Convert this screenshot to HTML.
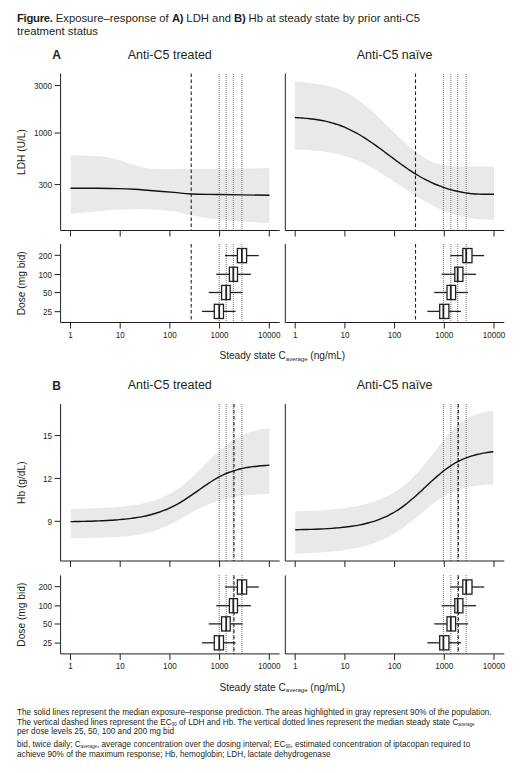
<!DOCTYPE html>
<html><head><meta charset="utf-8"><style>
html,body{margin:0;padding:0;background:#fff;}
body{width:520px;height:773px;overflow:hidden;position:relative;font-family:"Liberation Sans",sans-serif;color:#231f20;}
svg{position:absolute;left:0;top:0;}
svg text{font-family:"Liberation Sans",sans-serif;fill:#231f20;}
.lbl{font-size:12px;font-weight:bold;}
.ttl{font-size:12.5px;}
.tk{font-size:8.15px;}
.yt{font-size:10.2px;}
.xt{font-size:10.15px;}
.sub{font-size:6px;}
.ax{stroke:#231f20;stroke-width:1;fill:none;}
.crv{stroke:#111;stroke-width:1.4;fill:none;}
.dot{stroke:#666;stroke-width:0.9;stroke-dasharray:1 1;}
.dash{stroke:#231f20;stroke-width:1.1;stroke-dasharray:3.5 2.5;}
.wh{stroke:#231f20;stroke-width:1.3;}
.bx{stroke:#231f20;stroke-width:1.3;fill:#fff;}
.md{stroke:#231f20;stroke-width:1.8;}
.cap{position:absolute;left:17px;font-size:11.3px;line-height:13px;white-space:nowrap;}
.cap b{letter-spacing:-0.3px;}
.fn{position:absolute;left:17px;font-size:8.2px;line-height:9.7px;white-space:nowrap;}
.fn sub{font-size:4.5px;line-height:0;vertical-align:baseline;position:relative;top:1.2px;}
</style></head><body>
<div class="cap" style="top:12.2px"><b>Figure.</b> Exposure–response of <b>A)</b> LDH and <b>B)</b> Hb at steady state by prior anti-C5<br>treatment status</div>
<svg width="520" height="773" viewBox="0 0 520 773">
<text x="52.3" y="59.0" class="lbl">A</text>
<text x="169.8" y="58.8" class="ttl" text-anchor="middle">Anti-C5 treated</text>
<text x="394.6" y="58.8" class="ttl" text-anchor="middle">Anti-C5 naïve</text>
<path d="M70.60,155.20 C75.50,155.38 92.10,155.53 100.00,156.30 C107.90,157.07 112.17,158.32 118.00,159.80 C123.83,161.28 129.67,163.75 135.00,165.20 C140.33,166.65 144.17,167.83 150.00,168.50 C155.83,169.17 163.33,169.15 170.00,169.20 C176.67,169.25 173.42,168.95 190.00,168.80 C206.58,168.65 256.25,168.38 269.50,168.30 L269.50,223.20 C263.60,222.82 244.00,221.70 234.10,220.90 C224.20,220.10 217.30,219.35 210.10,218.40 C202.90,217.45 196.92,216.38 190.90,215.20 C184.88,214.02 180.82,212.27 174.00,211.30 C167.18,210.33 159.33,209.67 150.00,209.40 C140.67,209.13 126.33,209.43 118.00,209.70 C109.67,209.97 107.90,210.32 100.00,211.00 C92.10,211.68 75.50,213.33 70.60,213.80 Z" fill="#e9e9e9"/>
<path d="M294.80,80.96 C295.30,81.04 296.81,81.27 297.82,81.41 C298.82,81.55 299.83,81.68 300.84,81.81 C301.84,81.94 302.85,82.06 303.85,82.19 C304.86,82.31 305.87,82.43 306.87,82.55 C307.88,82.66 308.88,82.78 309.89,82.90 C310.90,83.03 311.90,83.15 312.91,83.28 C313.92,83.41 314.92,83.54 315.93,83.68 C316.93,83.82 317.94,83.97 318.95,84.13 C319.95,84.28 320.96,84.45 321.96,84.63 C322.97,84.81 323.98,85.00 324.98,85.21 C325.99,85.41 326.99,85.63 328.00,85.87 C329.01,86.11 330.01,86.36 331.02,86.63 C332.02,86.91 333.03,87.20 334.04,87.51 C335.04,87.83 336.05,88.16 337.05,88.52 C338.06,88.88 339.07,89.27 340.07,89.68 C341.08,90.09 342.08,90.53 343.09,90.99 C344.10,91.46 345.10,91.95 346.11,92.48 C347.12,93.01 348.12,93.56 349.13,94.15 C350.13,94.73 351.14,95.34 352.15,95.98 C353.15,96.62 354.16,97.28 355.16,97.97 C356.17,98.65 357.18,99.37 358.18,100.10 C359.19,100.83 360.19,101.59 361.20,102.36 C362.21,103.14 363.21,103.94 364.22,104.75 C365.22,105.56 366.23,106.40 367.24,107.25 C368.24,108.10 369.25,108.96 370.25,109.84 C371.26,110.72 372.27,111.62 373.27,112.52 C374.28,113.43 375.28,114.35 376.29,115.28 C377.30,116.21 378.30,117.15 379.31,118.09 C380.32,119.04 381.32,120.00 382.33,120.97 C383.33,121.93 384.34,122.90 385.35,123.88 C386.35,124.85 387.36,125.83 388.36,126.81 C389.37,127.80 390.38,128.78 391.38,129.77 C392.39,130.75 393.39,131.73 394.40,132.71 C395.41,133.69 396.41,134.67 397.42,135.63 C398.42,136.60 399.43,137.57 400.44,138.52 C401.44,139.47 402.45,140.41 403.45,141.34 C404.46,142.27 405.47,143.19 406.47,144.09 C407.48,144.99 408.48,145.88 409.49,146.75 C410.50,147.61 411.50,148.46 412.51,149.29 C413.52,150.12 414.52,150.93 415.53,151.71 C416.53,152.49 417.54,153.25 418.55,153.98 C419.55,154.71 420.56,155.41 421.56,156.09 C422.57,156.76 423.58,157.40 424.58,158.01 C425.59,158.62 426.59,159.20 427.60,159.74 C428.61,160.28 429.61,160.79 430.62,161.25 C431.62,161.72 432.63,162.15 433.64,162.54 C434.64,162.93 435.65,163.28 436.65,163.60 C437.66,163.93 438.67,164.21 439.67,164.47 C440.68,164.73 441.68,164.96 442.69,165.16 C443.70,165.36 444.70,165.53 445.71,165.69 C446.72,165.84 447.72,165.96 448.73,166.07 C449.73,166.17 450.74,166.26 451.75,166.32 C452.75,166.39 453.76,166.44 454.76,166.48 C455.77,166.51 456.78,166.53 457.78,166.54 C458.79,166.55 459.79,166.54 460.80,166.54 C461.81,166.54 462.81,166.54 463.82,166.54 C464.82,166.54 465.83,166.54 466.84,166.54 C467.84,166.54 468.85,166.54 469.85,166.54 C470.86,166.54 471.87,166.54 472.87,166.54 C473.88,166.54 474.88,166.54 475.89,166.54 C476.90,166.54 477.90,166.54 478.91,166.54 C479.92,166.54 480.92,166.54 481.93,166.54 C482.93,166.54 483.94,166.54 484.95,166.54 C485.95,166.54 486.96,166.51 487.96,166.54 C488.97,166.56 489.98,166.59 490.98,166.69 C491.99,166.79 493.50,167.06 494.00,167.13 L494.00,219.83 C493.50,219.83 491.99,219.82 490.98,219.80 C489.98,219.78 488.97,219.75 487.96,219.71 C486.96,219.68 485.95,219.63 484.95,219.57 C483.94,219.52 482.93,219.45 481.93,219.38 C480.92,219.30 479.92,219.21 478.91,219.12 C477.90,219.02 476.90,218.92 475.89,218.80 C474.88,218.68 473.88,218.55 472.87,218.41 C471.87,218.27 470.86,218.12 469.85,217.95 C468.85,217.79 467.84,217.61 466.84,217.42 C465.83,217.23 464.82,217.03 463.82,216.82 C462.81,216.60 461.81,216.37 460.80,216.13 C459.79,215.89 458.79,215.64 457.78,215.37 C456.78,215.10 455.77,214.81 454.76,214.51 C453.76,214.22 452.75,213.90 451.75,213.58 C450.74,213.25 449.73,212.90 448.73,212.55 C447.72,212.19 446.72,211.81 445.71,211.42 C444.70,211.03 443.70,210.62 442.69,210.20 C441.68,209.78 440.68,209.34 439.67,208.88 C438.67,208.43 437.66,207.96 436.65,207.47 C435.65,206.99 434.64,206.49 433.64,205.98 C432.63,205.47 431.62,204.94 430.62,204.41 C429.61,203.87 428.61,203.33 427.60,202.77 C426.59,202.21 425.59,201.64 424.58,201.06 C423.58,200.48 422.57,199.89 421.56,199.29 C420.56,198.70 419.55,198.09 418.55,197.48 C417.54,196.86 416.53,196.24 415.53,195.61 C414.52,194.98 413.52,194.35 412.51,193.71 C411.50,193.07 410.50,192.42 409.49,191.77 C408.48,191.12 407.48,190.46 406.47,189.81 C405.47,189.15 404.46,188.49 403.45,187.82 C402.45,187.16 401.44,186.49 400.44,185.82 C399.43,185.16 398.42,184.49 397.42,183.82 C396.41,183.15 395.41,182.48 394.40,181.81 C393.39,181.15 392.39,180.48 391.38,179.82 C390.38,179.15 389.37,178.49 388.36,177.84 C387.36,177.18 386.35,176.53 385.35,175.88 C384.34,175.24 383.33,174.59 382.33,173.96 C381.32,173.33 380.32,172.70 379.31,172.08 C378.30,171.46 377.30,170.85 376.29,170.25 C375.28,169.65 374.28,169.05 373.27,168.47 C372.27,167.89 371.26,167.32 370.25,166.76 C369.25,166.21 368.24,165.66 367.24,165.13 C366.23,164.60 365.22,164.08 364.22,163.58 C363.21,163.07 362.21,162.58 361.20,162.11 C360.19,161.64 359.19,161.19 358.18,160.75 C357.18,160.31 356.17,159.89 355.16,159.49 C354.16,159.08 353.15,158.70 352.15,158.33 C351.14,157.96 350.13,157.60 349.13,157.26 C348.12,156.92 347.12,156.60 346.11,156.29 C345.10,155.98 344.10,155.69 343.09,155.41 C342.08,155.12 341.08,154.86 340.07,154.60 C339.07,154.35 338.06,154.11 337.05,153.88 C336.05,153.65 335.04,153.43 334.04,153.23 C333.03,153.02 332.02,152.83 331.02,152.65 C330.01,152.47 329.01,152.30 328.00,152.14 C326.99,151.97 325.99,151.82 324.98,151.68 C323.98,151.54 322.97,151.41 321.96,151.29 C320.96,151.16 319.95,151.05 318.95,150.94 C317.94,150.84 316.93,150.74 315.93,150.65 C314.92,150.56 313.92,150.47 312.91,150.39 C311.90,150.32 310.90,150.25 309.89,150.18 C308.88,150.12 307.88,150.06 306.87,150.00 C305.87,149.95 304.86,149.90 303.85,149.86 C302.85,149.81 301.84,149.77 300.84,149.74 C299.83,149.70 298.82,149.67 297.82,149.64 C296.81,149.61 295.30,149.57 294.80,149.55 Z" fill="#e9e9e9"/>
<line x1="219.2" y1="74" x2="219.2" y2="230.5" class="dot"/>
<line x1="219.2" y1="244" x2="219.2" y2="322.5" class="dot"/>
<line x1="226.2" y1="74" x2="226.2" y2="230.5" class="dot"/>
<line x1="226.2" y1="244" x2="226.2" y2="322.5" class="dot"/>
<line x1="233.3" y1="74" x2="233.3" y2="230.5" class="dot"/>
<line x1="233.3" y1="244" x2="233.3" y2="322.5" class="dot"/>
<line x1="241.9" y1="74" x2="241.9" y2="230.5" class="dot"/>
<line x1="241.9" y1="244" x2="241.9" y2="322.5" class="dot"/>
<line x1="443.4" y1="74" x2="443.4" y2="230.5" class="dot"/>
<line x1="443.4" y1="244" x2="443.4" y2="322.5" class="dot"/>
<line x1="450.8" y1="74" x2="450.8" y2="230.5" class="dot"/>
<line x1="450.8" y1="244" x2="450.8" y2="322.5" class="dot"/>
<line x1="457.7" y1="74" x2="457.7" y2="230.5" class="dot"/>
<line x1="457.7" y1="244" x2="457.7" y2="322.5" class="dot"/>
<line x1="466.2" y1="74" x2="466.2" y2="230.5" class="dot"/>
<line x1="466.2" y1="244" x2="466.2" y2="322.5" class="dot"/>
<line x1="191.2" y1="73.5" x2="191.2" y2="230.5" class="dash"/>
<line x1="191.2" y1="244.0" x2="191.2" y2="322.5" class="dash"/>
<line x1="415.5" y1="73.5" x2="415.5" y2="230.5" class="dash"/>
<line x1="415.5" y1="244.0" x2="415.5" y2="322.5" class="dash"/>
<path d="M70.60,188.20 C74.67,188.22 87.10,188.23 95.00,188.30 C102.90,188.37 111.33,188.43 118.00,188.60 C124.67,188.77 129.67,188.98 135.00,189.30 C140.33,189.62 143.50,189.98 150.00,190.50 C156.50,191.02 167.18,191.82 174.00,192.40 C180.82,192.98 183.28,193.65 190.90,194.00 C198.52,194.35 206.60,194.28 219.70,194.50 C232.80,194.72 261.20,195.17 269.50,195.30" class="crv"/>
<path d="M294.80,117.50 C295.30,117.53 296.81,117.62 297.82,117.68 C298.82,117.74 299.83,117.81 300.84,117.88 C301.84,117.96 302.85,118.03 303.85,118.12 C304.86,118.20 305.87,118.29 306.87,118.39 C307.88,118.48 308.88,118.59 309.89,118.70 C310.90,118.81 311.90,118.93 312.91,119.06 C313.92,119.19 314.92,119.33 315.93,119.47 C316.93,119.62 317.94,119.78 318.95,119.95 C319.95,120.12 320.96,120.30 321.96,120.50 C322.97,120.69 323.98,120.90 324.98,121.12 C325.99,121.34 326.99,121.57 328.00,121.82 C329.01,122.06 330.01,122.33 331.02,122.60 C332.02,122.88 333.03,123.17 334.04,123.48 C335.04,123.79 336.05,124.11 337.05,124.46 C338.06,124.80 339.07,125.15 340.07,125.52 C341.08,125.89 342.08,126.28 343.09,126.69 C344.10,127.09 345.10,127.51 346.11,127.95 C347.12,128.39 348.12,128.84 349.13,129.31 C350.13,129.78 351.14,130.27 352.15,130.77 C353.15,131.28 354.16,131.80 355.16,132.34 C356.17,132.87 357.18,133.43 358.18,134.00 C359.19,134.58 360.19,135.17 361.20,135.77 C362.21,136.38 363.21,137.00 364.22,137.64 C365.22,138.28 366.23,138.93 367.24,139.59 C368.24,140.26 369.25,140.93 370.25,141.62 C371.26,142.31 372.27,143.01 373.27,143.71 C374.28,144.42 375.28,145.14 376.29,145.86 C377.30,146.58 378.30,147.31 379.31,148.05 C380.32,148.78 381.32,149.53 382.33,150.27 C383.33,151.02 384.34,151.77 385.35,152.52 C386.35,153.27 387.36,154.02 388.36,154.78 C389.37,155.53 390.38,156.29 391.38,157.04 C392.39,157.79 393.39,158.54 394.40,159.29 C395.41,160.04 396.41,160.79 397.42,161.53 C398.42,162.27 399.43,163.00 400.44,163.73 C401.44,164.46 402.45,165.18 403.45,165.90 C404.46,166.61 405.47,167.32 406.47,168.01 C407.48,168.71 408.48,169.39 409.49,170.07 C410.50,170.74 411.50,171.40 412.51,172.05 C413.52,172.70 414.52,173.33 415.53,173.95 C416.53,174.57 417.54,175.18 418.55,175.77 C419.55,176.35 420.56,176.93 421.56,177.49 C422.57,178.05 423.58,178.59 424.58,179.12 C425.59,179.65 426.59,180.16 427.60,180.66 C428.61,181.16 429.61,181.65 430.62,182.12 C431.62,182.59 432.63,183.05 433.64,183.49 C434.64,183.93 435.65,184.36 436.65,184.77 C437.66,185.18 438.67,185.58 439.67,185.97 C440.68,186.35 441.68,186.72 442.69,187.08 C443.70,187.44 444.70,187.78 445.71,188.11 C446.72,188.44 447.72,188.75 448.73,189.06 C449.73,189.36 450.74,189.65 451.75,189.92 C452.75,190.19 453.76,190.45 454.76,190.70 C455.77,190.95 456.78,191.18 457.78,191.40 C458.79,191.63 459.79,191.83 460.80,192.03 C461.81,192.22 462.81,192.40 463.82,192.57 C464.82,192.74 465.83,192.89 466.84,193.04 C467.84,193.18 468.85,193.31 469.85,193.43 C470.86,193.54 471.87,193.65 472.87,193.74 C473.88,193.83 474.88,193.91 475.89,193.98 C476.90,194.04 477.90,194.10 478.91,194.14 C479.92,194.18 480.92,194.21 481.93,194.23 C482.93,194.25 483.94,194.24 484.95,194.24 C485.95,194.25 486.96,194.24 487.96,194.24 C488.97,194.24 489.98,194.24 490.98,194.24 C491.99,194.24 493.50,194.24 494.00,194.24" class="crv"/>
<path d="M60.6,73.5 V230.5 H279.6" class="ax"/>
<path d="M60.6,244.0 V322.5 H279.6" class="ax"/>
<line x1="70.50" y1="230.5" x2="70.50" y2="236.5" class="ax"/>
<line x1="70.50" y1="322.5" x2="70.50" y2="328.5" class="ax"/>
<text x="70.50" y="337.5" class="tk" text-anchor="middle">1</text>
<line x1="120.20" y1="230.5" x2="120.20" y2="236.5" class="ax"/>
<line x1="120.20" y1="322.5" x2="120.20" y2="328.5" class="ax"/>
<text x="120.20" y="337.5" class="tk" text-anchor="middle">10</text>
<line x1="169.90" y1="230.5" x2="169.90" y2="236.5" class="ax"/>
<line x1="169.90" y1="322.5" x2="169.90" y2="328.5" class="ax"/>
<text x="169.90" y="337.5" class="tk" text-anchor="middle">100</text>
<line x1="219.60" y1="230.5" x2="219.60" y2="236.5" class="ax"/>
<line x1="219.60" y1="322.5" x2="219.60" y2="328.5" class="ax"/>
<text x="219.60" y="337.5" class="tk" text-anchor="middle">1000</text>
<line x1="269.30" y1="230.5" x2="269.30" y2="236.5" class="ax"/>
<line x1="269.30" y1="322.5" x2="269.30" y2="328.5" class="ax"/>
<text x="269.30" y="337.5" class="tk" text-anchor="middle">10000</text>
<path d="M285.3,73.5 V230.5 H504.3" class="ax"/>
<path d="M285.3,244.0 V322.5 H504.3" class="ax"/>
<line x1="295.20" y1="230.5" x2="295.20" y2="236.5" class="ax"/>
<line x1="295.20" y1="322.5" x2="295.20" y2="328.5" class="ax"/>
<text x="295.20" y="337.5" class="tk" text-anchor="middle">1</text>
<line x1="344.90" y1="230.5" x2="344.90" y2="236.5" class="ax"/>
<line x1="344.90" y1="322.5" x2="344.90" y2="328.5" class="ax"/>
<text x="344.90" y="337.5" class="tk" text-anchor="middle">10</text>
<line x1="394.60" y1="230.5" x2="394.60" y2="236.5" class="ax"/>
<line x1="394.60" y1="322.5" x2="394.60" y2="328.5" class="ax"/>
<text x="394.60" y="337.5" class="tk" text-anchor="middle">100</text>
<line x1="444.30" y1="230.5" x2="444.30" y2="236.5" class="ax"/>
<line x1="444.30" y1="322.5" x2="444.30" y2="328.5" class="ax"/>
<text x="444.30" y="337.5" class="tk" text-anchor="middle">1000</text>
<line x1="494.00" y1="230.5" x2="494.00" y2="236.5" class="ax"/>
<line x1="494.00" y1="322.5" x2="494.00" y2="328.5" class="ax"/>
<text x="494.00" y="337.5" class="tk" text-anchor="middle">10000</text>
<line x1="54.6" y1="85.6" x2="60.6" y2="85.6" class="ax"/>
<text x="52.1" y="88.8" class="tk" text-anchor="end">3000</text>
<line x1="54.6" y1="133.0" x2="60.6" y2="133.0" class="ax"/>
<text x="52.1" y="136.2" class="tk" text-anchor="end">1000</text>
<line x1="54.6" y1="184.6" x2="60.6" y2="184.6" class="ax"/>
<text x="52.1" y="187.8" class="tk" text-anchor="end">300</text>
<line x1="54.6" y1="255.3" x2="60.6" y2="255.3" class="ax"/>
<text x="52.1" y="258.5" class="tk" text-anchor="end">200</text>
<line x1="54.6" y1="274.5" x2="60.6" y2="274.5" class="ax"/>
<text x="52.1" y="277.7" class="tk" text-anchor="end">100</text>
<line x1="54.6" y1="292.6" x2="60.6" y2="292.6" class="ax"/>
<text x="52.1" y="295.8" class="tk" text-anchor="end">50</text>
<line x1="54.6" y1="311.7" x2="60.6" y2="311.7" class="ax"/>
<text x="52.1" y="314.9" class="tk" text-anchor="end">25</text>
<text transform="translate(24.6,152.0) rotate(-90)" class="yt" text-anchor="middle">LDH (U/L)</text>
<text transform="translate(24.6,283.3) rotate(-90)" class="yt" text-anchor="middle">Dose (mg bid)</text>
<line x1="225.00" y1="255.6" x2="237.40" y2="255.6" class="wh"/>
<line x1="246.60" y1="255.6" x2="258.80" y2="255.6" class="wh"/>
<rect x="237.40" y="248.50" width="9.20" height="14.2" class="bx"/>
<line x1="241.90" y1="248.50" x2="241.90" y2="262.70" class="md"/>
<line x1="216.20" y1="274.3" x2="229.40" y2="274.3" class="wh"/>
<line x1="237.50" y1="274.3" x2="250.80" y2="274.3" class="wh"/>
<rect x="229.40" y="267.20" width="8.10" height="14.2" class="bx"/>
<line x1="233.30" y1="267.20" x2="233.30" y2="281.40" class="md"/>
<line x1="208.80" y1="292.5" x2="221.60" y2="292.5" class="wh"/>
<line x1="230.20" y1="292.5" x2="242.70" y2="292.5" class="wh"/>
<rect x="221.60" y="285.40" width="8.60" height="14.2" class="bx"/>
<line x1="226.20" y1="285.40" x2="226.20" y2="299.60" class="md"/>
<line x1="202.00" y1="311.4" x2="214.30" y2="311.4" class="wh"/>
<line x1="223.50" y1="311.4" x2="235.50" y2="311.4" class="wh"/>
<rect x="214.30" y="304.30" width="9.20" height="14.2" class="bx"/>
<line x1="219.20" y1="304.30" x2="219.20" y2="318.50" class="md"/>
<line x1="450.40" y1="255.6" x2="462.80" y2="255.6" class="wh"/>
<line x1="472.00" y1="255.6" x2="484.20" y2="255.6" class="wh"/>
<rect x="462.80" y="248.50" width="9.20" height="14.2" class="bx"/>
<line x1="466.20" y1="248.50" x2="466.20" y2="262.70" class="md"/>
<line x1="441.60" y1="274.3" x2="454.80" y2="274.3" class="wh"/>
<line x1="462.90" y1="274.3" x2="476.20" y2="274.3" class="wh"/>
<rect x="454.80" y="267.20" width="8.10" height="14.2" class="bx"/>
<line x1="457.70" y1="267.20" x2="457.70" y2="281.40" class="md"/>
<line x1="434.20" y1="292.5" x2="447.00" y2="292.5" class="wh"/>
<line x1="455.60" y1="292.5" x2="468.10" y2="292.5" class="wh"/>
<rect x="447.00" y="285.40" width="8.60" height="14.2" class="bx"/>
<line x1="450.80" y1="285.40" x2="450.80" y2="299.60" class="md"/>
<line x1="427.40" y1="311.4" x2="439.70" y2="311.4" class="wh"/>
<line x1="448.90" y1="311.4" x2="460.90" y2="311.4" class="wh"/>
<rect x="439.70" y="304.30" width="9.20" height="14.2" class="bx"/>
<line x1="443.40" y1="304.30" x2="443.40" y2="318.50" class="md"/>
<text x="219.4" y="359.1" class="xt">Steady state C<tspan class="sub" dy="1.8">average</tspan><tspan dy="-1.8"> (ng/mL)</tspan></text>
<text x="52.3" y="389.5" class="lbl">B</text>
<text x="169.8" y="389.3" class="ttl" text-anchor="middle">Anti-C5 treated</text>
<text x="394.6" y="389.3" class="ttl" text-anchor="middle">Anti-C5 naïve</text>
<path d="M70.60,508.88 C71.28,508.87 73.30,508.84 74.66,508.82 C76.01,508.80 77.36,508.78 78.71,508.75 C80.06,508.73 81.41,508.70 82.77,508.67 C84.12,508.64 85.47,508.61 86.82,508.58 C88.17,508.54 89.52,508.51 90.88,508.47 C92.23,508.43 93.58,508.39 94.93,508.34 C96.28,508.29 97.63,508.24 98.99,508.19 C100.34,508.13 101.69,508.07 103.04,508.01 C104.39,507.95 105.74,507.88 107.10,507.80 C108.45,507.73 109.80,507.65 111.15,507.56 C112.50,507.47 113.85,507.38 115.21,507.27 C116.56,507.17 117.91,507.06 119.26,506.94 C120.61,506.82 121.96,506.69 123.32,506.55 C124.67,506.41 126.02,506.26 127.37,506.09 C128.72,505.93 130.07,505.75 131.43,505.56 C132.78,505.37 134.13,505.16 135.48,504.94 C136.83,504.71 138.19,504.47 139.54,504.21 C140.89,503.95 142.24,503.67 143.59,503.37 C144.94,503.07 146.30,502.74 147.65,502.39 C149.00,502.04 150.35,501.67 151.70,501.26 C153.05,500.85 154.41,500.42 155.76,499.95 C157.11,499.48 158.46,498.98 159.81,498.44 C161.16,497.90 162.52,497.33 163.87,496.72 C165.22,496.10 166.57,495.45 167.92,494.75 C169.27,494.05 170.63,493.30 171.98,492.51 C173.33,491.72 174.68,490.89 176.03,490.00 C177.38,489.12 178.74,488.19 180.09,487.21 C181.44,486.22 182.79,485.19 184.14,484.12 C185.49,483.04 186.85,481.92 188.20,480.75 C189.55,479.59 190.90,478.37 192.25,477.13 C193.60,475.89 194.96,474.60 196.31,473.30 C197.66,471.99 199.01,470.65 200.36,469.30 C201.71,467.96 203.07,466.58 204.42,465.22 C205.77,463.86 207.12,462.48 208.47,461.13 C209.83,459.78 211.18,458.42 212.53,457.11 C213.88,455.79 215.23,454.49 216.58,453.23 C217.94,451.98 219.29,450.75 220.64,449.58 C221.99,448.41 223.34,447.28 224.69,446.20 C226.05,445.13 227.40,444.10 228.75,443.13 C230.10,442.17 231.45,441.25 232.80,440.40 C234.16,439.54 235.51,438.74 236.86,437.99 C238.21,437.24 239.56,436.55 240.91,435.90 C242.27,435.26 243.62,434.67 244.97,434.12 C246.32,433.57 247.67,433.07 249.02,432.61 C250.38,432.14 251.73,431.72 253.08,431.34 C254.43,430.95 255.78,430.60 257.13,430.28 C258.49,429.96 259.84,429.67 261.19,429.40 C262.54,429.14 263.89,428.90 265.24,428.68 C266.60,428.46 268.62,428.19 269.30,428.09 L269.30,493.79 C268.62,493.82 266.60,493.90 265.24,493.96 C263.89,494.02 262.54,494.08 261.19,494.16 C259.84,494.23 258.49,494.31 257.13,494.39 C255.78,494.48 254.43,494.58 253.08,494.68 C251.73,494.79 250.38,494.90 249.02,495.03 C247.67,495.15 246.32,495.29 244.97,495.44 C243.62,495.59 242.27,495.75 240.91,495.92 C239.56,496.10 238.21,496.29 236.86,496.50 C235.51,496.72 234.16,496.94 232.80,497.19 C231.45,497.44 230.10,497.70 228.75,497.99 C227.40,498.28 226.05,498.59 224.69,498.93 C223.34,499.27 221.99,499.63 220.64,500.01 C219.29,500.40 217.94,500.82 216.58,501.26 C215.23,501.70 213.88,502.17 212.53,502.67 C211.18,503.17 209.83,503.70 208.47,504.26 C207.12,504.82 205.77,505.41 204.42,506.02 C203.07,506.64 201.71,507.28 200.36,507.94 C199.01,508.61 197.66,509.30 196.31,510.01 C194.96,510.72 193.60,511.45 192.25,512.19 C190.90,512.93 189.55,513.69 188.20,514.45 C186.85,515.21 185.49,515.98 184.14,516.75 C182.79,517.51 181.44,518.28 180.09,519.04 C178.74,519.79 177.38,520.54 176.03,521.27 C174.68,522.00 173.33,522.72 171.98,523.41 C170.63,524.10 169.27,524.77 167.92,525.41 C166.57,526.05 165.22,526.66 163.87,527.25 C162.52,527.83 161.16,528.39 159.81,528.91 C158.46,529.43 157.11,529.93 155.76,530.39 C154.41,530.85 153.05,531.28 151.70,531.68 C150.35,532.08 149.00,532.45 147.65,532.80 C146.30,533.14 144.94,533.46 143.59,533.75 C142.24,534.04 140.89,534.30 139.54,534.55 C138.19,534.79 136.83,535.01 135.48,535.22 C134.13,535.42 132.78,535.61 131.43,535.77 C130.07,535.94 128.72,536.09 127.37,536.23 C126.02,536.37 124.67,536.49 123.32,536.61 C121.96,536.72 120.61,536.82 119.26,536.91 C117.91,537.00 116.56,537.08 115.21,537.16 C113.85,537.23 112.50,537.30 111.15,537.36 C109.80,537.42 108.45,537.47 107.10,537.52 C105.74,537.57 104.39,537.61 103.04,537.65 C101.69,537.69 100.34,537.72 98.99,537.75 C97.63,537.78 96.28,537.81 94.93,537.83 C93.58,537.86 92.23,537.88 90.88,537.90 C89.52,537.92 88.17,537.94 86.82,537.95 C85.47,537.97 84.12,537.98 82.77,537.99 C81.41,538.01 80.06,538.02 78.71,538.03 C77.36,538.04 76.01,538.05 74.66,538.05 C73.30,538.06 71.28,538.07 70.60,538.08 Z" fill="#e9e9e9"/>
<path d="M295.20,511.48 C295.87,511.46 297.90,511.40 299.24,511.35 C300.59,511.31 301.94,511.26 303.29,511.21 C304.63,511.16 305.98,511.11 307.33,511.05 C308.68,510.99 310.02,510.93 311.37,510.86 C312.72,510.80 314.07,510.73 315.41,510.66 C316.76,510.58 318.11,510.51 319.46,510.42 C320.80,510.34 322.15,510.25 323.50,510.16 C324.85,510.06 326.20,509.96 327.54,509.85 C328.89,509.75 330.24,509.63 331.59,509.51 C332.93,509.39 334.28,509.26 335.63,509.12 C336.98,508.98 338.32,508.84 339.67,508.68 C341.02,508.52 342.37,508.36 343.71,508.18 C345.06,508.00 346.41,507.82 347.76,507.61 C349.10,507.41 350.45,507.20 351.80,506.97 C353.15,506.74 354.50,506.50 355.84,506.24 C357.19,505.98 358.54,505.71 359.89,505.42 C361.23,505.13 362.58,504.82 363.93,504.48 C365.28,504.15 366.62,503.80 367.97,503.43 C369.32,503.05 370.67,502.65 372.01,502.23 C373.36,501.80 374.71,501.35 376.06,500.87 C377.40,500.39 378.75,499.88 380.10,499.34 C381.45,498.80 382.80,498.22 384.14,497.61 C385.49,497.00 386.84,496.35 388.19,495.66 C389.53,494.97 390.88,494.24 392.23,493.46 C393.58,492.69 394.92,491.87 396.27,490.99 C397.62,490.12 398.97,489.21 400.31,488.23 C401.66,487.26 403.01,486.23 404.36,485.15 C405.70,484.06 407.05,482.92 408.40,481.72 C409.75,480.52 411.10,479.26 412.44,477.94 C413.79,476.62 415.14,475.24 416.49,473.80 C417.83,472.37 419.18,470.87 420.53,469.32 C421.88,467.77 423.22,466.17 424.57,464.52 C425.92,462.88 427.27,461.18 428.61,459.47 C429.96,457.76 431.31,456.00 432.66,454.24 C434.00,452.49 435.35,450.70 436.70,448.95 C438.05,447.19 439.40,445.42 440.74,443.71 C442.09,441.99 443.44,440.29 444.79,438.66 C446.13,437.04 447.48,435.44 448.83,433.94 C450.18,432.43 451.52,430.99 452.87,429.63 C454.22,428.28 455.57,427.00 456.91,425.82 C458.26,424.63 459.61,423.54 460.96,422.52 C462.30,421.51 463.65,420.59 465.00,419.75 C466.35,418.90 467.70,418.14 469.04,417.45 C470.39,416.76 471.74,416.15 473.09,415.59 C474.43,415.03 475.78,414.55 477.13,414.10 C478.48,413.66 479.82,413.28 481.17,412.93 C482.52,412.58 483.87,412.28 485.21,412.01 C486.56,411.73 487.91,411.50 489.26,411.29 C490.60,411.08 492.63,410.83 493.30,410.74 L493.30,484.26 C492.63,484.30 490.60,484.42 489.26,484.51 C487.91,484.60 486.56,484.71 485.21,484.82 C483.87,484.94 482.52,485.07 481.17,485.21 C479.82,485.36 478.48,485.52 477.13,485.70 C475.78,485.88 474.43,486.08 473.09,486.30 C471.74,486.53 470.39,486.77 469.04,487.05 C467.70,487.32 466.35,487.62 465.00,487.96 C463.65,488.30 462.30,488.66 460.96,489.07 C459.61,489.47 458.26,489.91 456.91,490.40 C455.57,490.88 454.22,491.41 452.87,491.98 C451.52,492.55 450.18,493.17 448.83,493.83 C447.48,494.50 446.13,495.21 444.79,495.98 C443.44,496.74 442.09,497.55 440.74,498.41 C439.40,499.26 438.05,500.17 436.70,501.11 C435.35,502.05 434.00,503.04 432.66,504.06 C431.31,505.08 429.96,506.13 428.61,507.21 C427.27,508.28 425.92,509.39 424.57,510.49 C423.22,511.60 421.88,512.73 420.53,513.86 C419.18,514.98 417.83,516.11 416.49,517.22 C415.14,518.33 413.79,519.45 412.44,520.53 C411.10,521.62 409.75,522.69 408.40,523.73 C407.05,524.77 405.70,525.78 404.36,526.77 C403.01,527.75 401.66,528.70 400.31,529.62 C398.97,530.53 397.62,531.42 396.27,532.26 C394.92,533.11 393.58,533.92 392.23,534.69 C390.88,535.46 389.53,536.20 388.19,536.90 C386.84,537.60 385.49,538.27 384.14,538.90 C382.80,539.53 381.45,540.13 380.10,540.70 C378.75,541.27 377.40,541.80 376.06,542.31 C374.71,542.82 373.36,543.29 372.01,543.75 C370.67,544.20 369.32,544.62 367.97,545.03 C366.62,545.43 365.28,545.80 363.93,546.16 C362.58,546.52 361.23,546.85 359.89,547.17 C358.54,547.48 357.19,547.78 355.84,548.06 C354.50,548.34 353.15,548.60 351.80,548.84 C350.45,549.09 349.10,549.32 347.76,549.54 C346.41,549.75 345.06,549.96 343.71,550.15 C342.37,550.34 341.02,550.52 339.67,550.69 C338.32,550.86 336.98,551.02 335.63,551.16 C334.28,551.31 332.93,551.45 331.59,551.58 C330.24,551.72 328.89,551.84 327.54,551.95 C326.20,552.07 324.85,552.18 323.50,552.28 C322.15,552.38 320.80,552.47 319.46,552.56 C318.11,552.65 316.76,552.74 315.41,552.82 C314.07,552.89 312.72,552.97 311.37,553.04 C310.02,553.11 308.68,553.17 307.33,553.23 C305.98,553.29 304.63,553.35 303.29,553.40 C301.94,553.46 300.59,553.51 299.24,553.55 C297.90,553.60 295.87,553.66 295.20,553.69 Z" fill="#e9e9e9"/>
<line x1="219.2" y1="404" x2="219.2" y2="561.0" class="dot"/>
<line x1="219.2" y1="575" x2="219.2" y2="653.9" class="dot"/>
<line x1="226.2" y1="404" x2="226.2" y2="561.0" class="dot"/>
<line x1="226.2" y1="575" x2="226.2" y2="653.9" class="dot"/>
<line x1="233.3" y1="404" x2="233.3" y2="561.0" class="dot"/>
<line x1="233.3" y1="575" x2="233.3" y2="653.9" class="dot"/>
<line x1="241.9" y1="404" x2="241.9" y2="561.0" class="dot"/>
<line x1="241.9" y1="575" x2="241.9" y2="653.9" class="dot"/>
<line x1="443.4" y1="404" x2="443.4" y2="561.0" class="dot"/>
<line x1="443.4" y1="575" x2="443.4" y2="653.9" class="dot"/>
<line x1="450.8" y1="404" x2="450.8" y2="561.0" class="dot"/>
<line x1="450.8" y1="575" x2="450.8" y2="653.9" class="dot"/>
<line x1="457.7" y1="404" x2="457.7" y2="561.0" class="dot"/>
<line x1="457.7" y1="575" x2="457.7" y2="653.9" class="dot"/>
<line x1="466.2" y1="404" x2="466.2" y2="561.0" class="dot"/>
<line x1="466.2" y1="575" x2="466.2" y2="653.9" class="dot"/>
<line x1="234.0" y1="404.0" x2="234.0" y2="561.0" class="dash"/>
<line x1="234.0" y1="575.4" x2="234.0" y2="653.9" class="dash"/>
<line x1="458.3" y1="404.0" x2="458.3" y2="561.0" class="dash"/>
<line x1="458.3" y1="575.4" x2="458.3" y2="653.9" class="dash"/>
<path d="M70.60,521.62 C71.28,521.61 73.30,521.58 74.66,521.56 C76.01,521.53 77.36,521.51 78.71,521.48 C80.06,521.46 81.41,521.43 82.77,521.40 C84.12,521.37 85.47,521.33 86.82,521.30 C88.17,521.26 89.52,521.23 90.88,521.18 C92.23,521.14 93.58,521.10 94.93,521.05 C96.28,521.00 97.63,520.95 98.99,520.90 C100.34,520.84 101.69,520.78 103.04,520.72 C104.39,520.66 105.74,520.59 107.10,520.51 C108.45,520.44 109.80,520.36 111.15,520.27 C112.50,520.19 113.85,520.09 115.21,519.99 C116.56,519.89 117.91,519.79 119.26,519.67 C120.61,519.55 121.96,519.43 123.32,519.30 C124.67,519.16 126.02,519.02 127.37,518.86 C128.72,518.71 130.07,518.54 131.43,518.36 C132.78,518.18 134.13,517.99 135.48,517.78 C136.83,517.57 138.19,517.35 139.54,517.11 C140.89,516.88 142.24,516.62 143.59,516.35 C144.94,516.07 146.30,515.78 147.65,515.46 C149.00,515.14 150.35,514.81 151.70,514.45 C153.05,514.08 154.41,513.70 155.76,513.29 C157.11,512.87 158.46,512.44 159.81,511.97 C161.16,511.50 162.52,511.00 163.87,510.47 C165.22,509.95 166.57,509.39 167.92,508.79 C169.27,508.20 170.63,507.57 171.98,506.91 C173.33,506.25 174.68,505.56 176.03,504.83 C177.38,504.11 178.74,503.34 180.09,502.55 C181.44,501.76 182.79,500.93 184.14,500.08 C185.49,499.23 186.85,498.35 188.20,497.45 C189.55,496.55 190.90,495.62 192.25,494.68 C193.60,493.75 194.96,492.79 196.31,491.83 C197.66,490.88 199.01,489.91 200.36,488.96 C201.71,488.00 203.07,487.04 204.42,486.11 C205.77,485.18 207.12,484.25 208.47,483.36 C209.83,482.46 211.18,481.59 212.53,480.75 C213.88,479.91 215.23,479.10 216.58,478.34 C217.94,477.57 219.29,476.84 220.64,476.15 C221.99,475.46 223.34,474.81 224.69,474.21 C226.05,473.60 227.40,473.04 228.75,472.51 C230.10,471.98 231.45,471.50 232.80,471.05 C234.16,470.60 235.51,470.20 236.86,469.82 C238.21,469.44 239.56,469.10 240.91,468.78 C242.27,468.47 243.62,468.19 244.97,467.93 C246.32,467.67 247.67,467.44 249.02,467.22 C250.38,467.01 251.73,466.82 253.08,466.65 C254.43,466.48 255.78,466.32 257.13,466.18 C258.49,466.04 259.84,465.92 261.19,465.81 C262.54,465.70 263.89,465.60 265.24,465.51 C266.60,465.42 268.62,465.31 269.30,465.26" class="crv"/>
<path d="M295.20,529.74 C295.87,529.73 297.90,529.69 299.24,529.66 C300.59,529.64 301.94,529.61 303.29,529.57 C304.63,529.54 305.98,529.51 307.33,529.47 C308.68,529.43 310.02,529.39 311.37,529.35 C312.72,529.30 314.07,529.26 315.41,529.20 C316.76,529.15 318.11,529.10 319.46,529.04 C320.80,528.98 322.15,528.92 323.50,528.85 C324.85,528.78 326.20,528.70 327.54,528.62 C328.89,528.54 330.24,528.46 331.59,528.36 C332.93,528.27 334.28,528.17 335.63,528.06 C336.98,527.95 338.32,527.83 339.67,527.71 C341.02,527.58 342.37,527.44 343.71,527.30 C345.06,527.15 346.41,526.99 347.76,526.82 C349.10,526.65 350.45,526.47 351.80,526.27 C353.15,526.07 354.50,525.86 355.84,525.63 C357.19,525.40 358.54,525.15 359.89,524.89 C361.23,524.62 362.58,524.34 363.93,524.03 C365.28,523.73 366.62,523.40 367.97,523.05 C369.32,522.70 370.67,522.32 372.01,521.91 C373.36,521.51 374.71,521.08 376.06,520.62 C377.40,520.15 378.75,519.66 380.10,519.13 C381.45,518.60 382.80,518.04 384.14,517.44 C385.49,516.84 386.84,516.20 388.19,515.53 C389.53,514.85 390.88,514.13 392.23,513.38 C393.58,512.62 394.92,511.82 396.27,510.97 C397.62,510.13 398.97,509.24 400.31,508.31 C401.66,507.38 403.01,506.41 404.36,505.39 C405.70,504.38 407.05,503.32 408.40,502.23 C409.75,501.14 411.10,500.00 412.44,498.84 C413.79,497.69 415.14,496.49 416.49,495.27 C417.83,494.06 419.18,492.81 420.53,491.56 C421.88,490.32 423.22,489.04 424.57,487.78 C425.92,486.51 427.27,485.24 428.61,483.98 C429.96,482.73 431.31,481.47 432.66,480.24 C434.00,479.02 435.35,477.81 436.70,476.64 C438.05,475.46 439.40,474.31 440.74,473.21 C442.09,472.11 443.44,471.05 444.79,470.03 C446.13,469.01 447.48,468.04 448.83,467.12 C450.18,466.19 451.52,465.32 452.87,464.49 C454.22,463.67 455.57,462.89 456.91,462.17 C458.26,461.44 459.61,460.76 460.96,460.13 C462.30,459.50 463.65,458.91 465.00,458.37 C466.35,457.82 467.70,457.33 469.04,456.86 C470.39,456.40 471.74,455.97 473.09,455.58 C474.43,455.19 475.78,454.83 477.13,454.50 C478.48,454.17 479.82,453.88 481.17,453.60 C482.52,453.33 483.87,453.08 485.21,452.85 C486.56,452.62 487.91,452.42 489.26,452.23 C490.60,452.04 492.63,451.80 493.30,451.72" class="crv"/>
<path d="M60.6,404.0 V561.0 H279.6" class="ax"/>
<path d="M60.6,575.4 V653.9 H279.6" class="ax"/>
<line x1="70.50" y1="561.0" x2="70.50" y2="567.0" class="ax"/>
<line x1="70.50" y1="653.9" x2="70.50" y2="659.9" class="ax"/>
<text x="70.50" y="668.9" class="tk" text-anchor="middle">1</text>
<line x1="120.20" y1="561.0" x2="120.20" y2="567.0" class="ax"/>
<line x1="120.20" y1="653.9" x2="120.20" y2="659.9" class="ax"/>
<text x="120.20" y="668.9" class="tk" text-anchor="middle">10</text>
<line x1="169.90" y1="561.0" x2="169.90" y2="567.0" class="ax"/>
<line x1="169.90" y1="653.9" x2="169.90" y2="659.9" class="ax"/>
<text x="169.90" y="668.9" class="tk" text-anchor="middle">100</text>
<line x1="219.60" y1="561.0" x2="219.60" y2="567.0" class="ax"/>
<line x1="219.60" y1="653.9" x2="219.60" y2="659.9" class="ax"/>
<text x="219.60" y="668.9" class="tk" text-anchor="middle">1000</text>
<line x1="269.30" y1="561.0" x2="269.30" y2="567.0" class="ax"/>
<line x1="269.30" y1="653.9" x2="269.30" y2="659.9" class="ax"/>
<text x="269.30" y="668.9" class="tk" text-anchor="middle">10000</text>
<path d="M285.3,404.0 V561.0 H504.3" class="ax"/>
<path d="M285.3,575.4 V653.9 H504.3" class="ax"/>
<line x1="295.20" y1="561.0" x2="295.20" y2="567.0" class="ax"/>
<line x1="295.20" y1="653.9" x2="295.20" y2="659.9" class="ax"/>
<text x="295.20" y="668.9" class="tk" text-anchor="middle">1</text>
<line x1="344.90" y1="561.0" x2="344.90" y2="567.0" class="ax"/>
<line x1="344.90" y1="653.9" x2="344.90" y2="659.9" class="ax"/>
<text x="344.90" y="668.9" class="tk" text-anchor="middle">10</text>
<line x1="394.60" y1="561.0" x2="394.60" y2="567.0" class="ax"/>
<line x1="394.60" y1="653.9" x2="394.60" y2="659.9" class="ax"/>
<text x="394.60" y="668.9" class="tk" text-anchor="middle">100</text>
<line x1="444.30" y1="561.0" x2="444.30" y2="567.0" class="ax"/>
<line x1="444.30" y1="653.9" x2="444.30" y2="659.9" class="ax"/>
<text x="444.30" y="668.9" class="tk" text-anchor="middle">1000</text>
<line x1="494.00" y1="561.0" x2="494.00" y2="567.0" class="ax"/>
<line x1="494.00" y1="653.9" x2="494.00" y2="659.9" class="ax"/>
<text x="494.00" y="668.9" class="tk" text-anchor="middle">10000</text>
<line x1="54.6" y1="435.6" x2="60.6" y2="435.6" class="ax"/>
<text x="52.1" y="438.8" class="tk" text-anchor="end">15</text>
<line x1="54.6" y1="478.4" x2="60.6" y2="478.4" class="ax"/>
<text x="52.1" y="481.6" class="tk" text-anchor="end">12</text>
<line x1="54.6" y1="521.3" x2="60.6" y2="521.3" class="ax"/>
<text x="52.1" y="524.5" class="tk" text-anchor="end">9</text>
<line x1="54.6" y1="586.7" x2="60.6" y2="586.7" class="ax"/>
<text x="52.1" y="589.9" class="tk" text-anchor="end">200</text>
<line x1="54.6" y1="605.9" x2="60.6" y2="605.9" class="ax"/>
<text x="52.1" y="609.1" class="tk" text-anchor="end">100</text>
<line x1="54.6" y1="624.0" x2="60.6" y2="624.0" class="ax"/>
<text x="52.1" y="627.2" class="tk" text-anchor="end">50</text>
<line x1="54.6" y1="643.0999999999999" x2="60.6" y2="643.0999999999999" class="ax"/>
<text x="52.1" y="646.3" class="tk" text-anchor="end">25</text>
<text transform="translate(24.6,482.7) rotate(-90)" class="yt" text-anchor="middle">Hb (g/dL)</text>
<text transform="translate(24.6,614.7) rotate(-90)" class="yt" text-anchor="middle">Dose (mg bid)</text>
<line x1="225.00" y1="587.0" x2="237.40" y2="587.0" class="wh"/>
<line x1="246.60" y1="587.0" x2="258.80" y2="587.0" class="wh"/>
<rect x="237.40" y="579.90" width="9.20" height="14.2" class="bx"/>
<line x1="241.90" y1="579.90" x2="241.90" y2="594.10" class="md"/>
<line x1="216.20" y1="605.7" x2="229.40" y2="605.7" class="wh"/>
<line x1="237.50" y1="605.7" x2="250.80" y2="605.7" class="wh"/>
<rect x="229.40" y="598.60" width="8.10" height="14.2" class="bx"/>
<line x1="233.30" y1="598.60" x2="233.30" y2="612.80" class="md"/>
<line x1="208.80" y1="623.9" x2="221.60" y2="623.9" class="wh"/>
<line x1="230.20" y1="623.9" x2="242.70" y2="623.9" class="wh"/>
<rect x="221.60" y="616.80" width="8.60" height="14.2" class="bx"/>
<line x1="226.20" y1="616.80" x2="226.20" y2="631.00" class="md"/>
<line x1="202.00" y1="642.8" x2="214.30" y2="642.8" class="wh"/>
<line x1="223.50" y1="642.8" x2="235.50" y2="642.8" class="wh"/>
<rect x="214.30" y="635.70" width="9.20" height="14.2" class="bx"/>
<line x1="219.20" y1="635.70" x2="219.20" y2="649.90" class="md"/>
<line x1="450.40" y1="587.0" x2="462.80" y2="587.0" class="wh"/>
<line x1="472.00" y1="587.0" x2="484.20" y2="587.0" class="wh"/>
<rect x="462.80" y="579.90" width="9.20" height="14.2" class="bx"/>
<line x1="466.20" y1="579.90" x2="466.20" y2="594.10" class="md"/>
<line x1="441.60" y1="605.7" x2="454.80" y2="605.7" class="wh"/>
<line x1="462.90" y1="605.7" x2="476.20" y2="605.7" class="wh"/>
<rect x="454.80" y="598.60" width="8.10" height="14.2" class="bx"/>
<line x1="457.70" y1="598.60" x2="457.70" y2="612.80" class="md"/>
<line x1="434.20" y1="623.9" x2="447.00" y2="623.9" class="wh"/>
<line x1="455.60" y1="623.9" x2="468.10" y2="623.9" class="wh"/>
<rect x="447.00" y="616.80" width="8.60" height="14.2" class="bx"/>
<line x1="450.80" y1="616.80" x2="450.80" y2="631.00" class="md"/>
<line x1="427.40" y1="642.8" x2="439.70" y2="642.8" class="wh"/>
<line x1="448.90" y1="642.8" x2="460.90" y2="642.8" class="wh"/>
<rect x="439.70" y="635.70" width="9.20" height="14.2" class="bx"/>
<line x1="443.40" y1="635.70" x2="443.40" y2="649.90" class="md"/>
<text x="219.4" y="690.5" class="xt">Steady state C<tspan class="sub" dy="1.8">average</tspan><tspan dy="-1.8"> (ng/mL)</tspan></text>
</svg>
<div class="fn" style="top:707.8px">The solid lines represent the median exposure–response prediction. The areas highlighted in gray represent 90% of the population.<br>The vertical dashed lines represent the EC<sub>90</sub> of LDH and Hb. The vertical dotted lines represent the median steady state C<sub>average</sub><br>per dose levels 25, 50, 100 and 200 mg bid</div>
<div class="fn" style="top:740.2px">bid, twice daily; C<sub>average</sub>, average concentration over the dosing interval; EC<sub>90</sub>, estimated concentration of iptacopan required to<br>achieve 90% of the maximum response; Hb, hemoglobin; LDH, lactate dehydrogenase</div>
</body></html>
